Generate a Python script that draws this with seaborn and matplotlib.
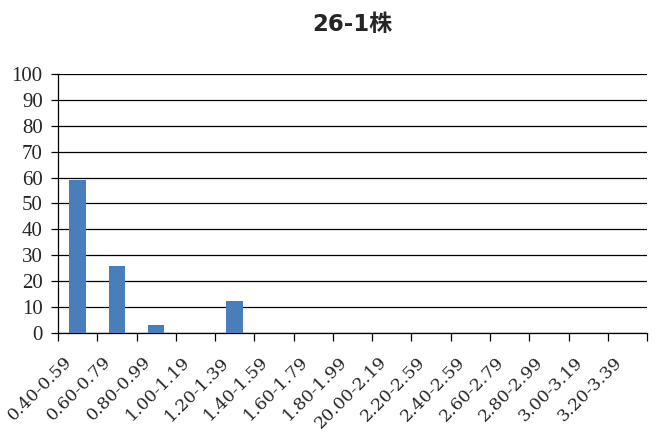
import matplotlib
matplotlib.use("Agg")
import matplotlib.pyplot as plt
import matplotlib.transforms as mtransforms
import seaborn as sns
import pandas as pd
import numpy as np

sns.set_style("white")
plt.rcParams['font.family'] = ['DejaVu Serif', 'Liberation Serif']

# Data
categories = ['0.40-0.59', '0.60-0.79', '0.80-0.99', '1.00-1.19', '1.20-1.39',
              '1.40-1.59', '1.60-1.79', '1.80-1.99', '20.00-2.19', '2.20-2.59',
              '2.40-2.59', '2.60-2.79', '2.80-2.99', '3.00-3.19', '3.20-3.39']
values = [59, 26, 3.3, 0, 12.3, 0, 0, 0, 0, 0, 0, 0, 0, 0, 0]
title = '26-1株'

df = pd.DataFrame({'cat': categories, 'val': values})

fig = plt.figure(figsize=(6.56, 4.32), dpi=100)
ax = fig.add_axes([0.0884, 0.229, 0.898, 0.600])

sns.barplot(data=df, x='cat', y='val', color='#4A7EBB', saturation=1,
            width=0.42, linewidth=0, ax=ax, zorder=3)

ax.set_xlim(-0.5, len(categories) - 0.5)
ax.set_ylim(0, 100)
ax.set_yticks(range(0, 101, 10))
ax.yaxis.grid(True, color='black', linewidth=0.9, zorder=0)
ax.set_axisbelow(True)

for s in ['top', 'right']:
    ax.spines[s].set_visible(False)
ax.spines['left'].set_color('black')
ax.spines['bottom'].set_color('black')
ax.spines['left'].set_linewidth(0.9)
ax.spines['bottom'].set_linewidth(0.9)

# category boundary ticks, labels at centres
ax.set_xticks(np.arange(-0.5, len(categories) + 0.5, 1), minor=True)
ax.tick_params(axis='x', which='minor', bottom=True, length=6, width=0.9,
               color='black', direction='out')
ax.tick_params(axis='y', left=True, length=5, width=0.9, color='black',
               direction='out', labelsize=15, pad=6)
ax.set_yticklabels([str(v) for v in range(0, 101, 10)], family=['Liberation Serif'])
ax.set_xticks(range(len(categories)))
ax.set_xticklabels(categories, rotation=45, ha='right', va='center',
                   rotation_mode='anchor', fontsize=12.5)
ax.tick_params(axis='x', which='major', bottom=False, length=0, pad=19)
shift = mtransforms.ScaledTranslation(-8 / 100, 0, fig.dpi_scale_trans)
for lab in ax.get_xticklabels():
    lab.set_transform(lab.get_transform() + shift)

ax.set_xlabel('')
ax.set_ylabel('')

ax.set_title(title, fontsize=16.5, fontweight='bold',
             family=['DejaVu Sans', 'Noto Sans CJK SC'], pad=31)

fig.savefig('out.png', dpi=100)
